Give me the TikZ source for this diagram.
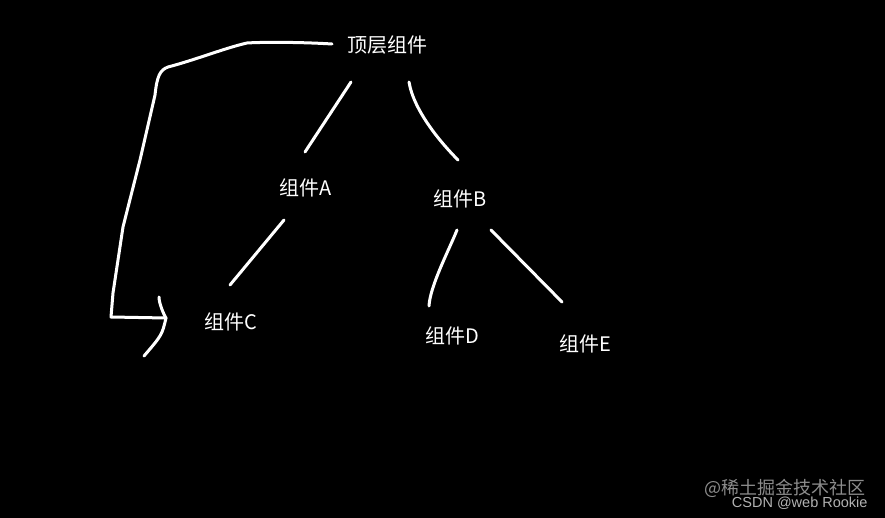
\documentclass[tikz,border=0pt]{standalone}
\usepackage{fontspec}
\setmainfont{Noto Sans CJK SC}
\newfontfamily\markfont{Liberation Sans}
\usetikzlibrary {positioning}

\begin{document}
\begin{tikzpicture}[x =1pt ,y =-1pt ,
line width =3pt ,line cap =round ,line join =round ,white ,
comp/.style ={ text=white , inner sep =0pt ,
font =\fontsize{20}{20}\selectfont},
wmark/.style ={ inner sep =0pt ,anchor =east}]
\fill[black] (0,0) rectangle (885,518);
\useasboundingbox (0,0) rectangle (885,518);
\node[comp] (T) at (387,45) {顶层组件};
\node[comp] (A) at (306,188) {组件A};
\node[comp] (B) at (460,199) {组件B};
\node[comp] (C) at (231,322) {组件C};
\node[comp] (D) at (452,336) {组件D};
\node[comp] (E) at (585,344) {组件E};
\node[wmark,text=black!45!white,font =\fontsize{18}{18}\selectfont] (W1) at (867,488) {@稀土掘金技术社区};
\node[wmark,text=black!30!white,font =\markfont\fontsize{14.5}{14.5}\selectfont] (W2) at (869,503) {CSDN @web Rookie};
\coordinate (tip) at (166,318);
\draw ([shift={(-36,37)}]T.center) -- ([shift={(-1,-36)}]A.center);
\draw ([shift={(22,37)}]T.center) .. controls +(5,30) and +(-15,-15) .. ([shift={(-2,-39)}]B.center);
\draw ([shift={(-22,32)}]A.center) -- ([shift={(-1,-37)}]C.center);
\draw ([shift={(-3,31)}]B.center) .. controls +(-8,20) and +(1,-20) .. ([shift={(-23,-30)}]D.center);
\draw ([shift={(31,31)}]B.center) -- ([shift={(-23,-42)}]E.center);
\draw ([shift={(-55,-1)}]T.center) .. controls (300,42) and (262,42) .. (247,43)
  .. controls (225,48) and (195,60) .. (168,67)
  .. controls (160,70) and (157,76) .. (155,95)
  -- (140,160) -- (123,227) -- (113,293) -- (111,317) -- (tip);
\draw ([shift={(-7,-21)}]tip) .. controls +(0,6) and +(-3,-5) .. (tip)
  .. controls (162,335) .. (144,356);
\end{tikzpicture}
\end{document}
